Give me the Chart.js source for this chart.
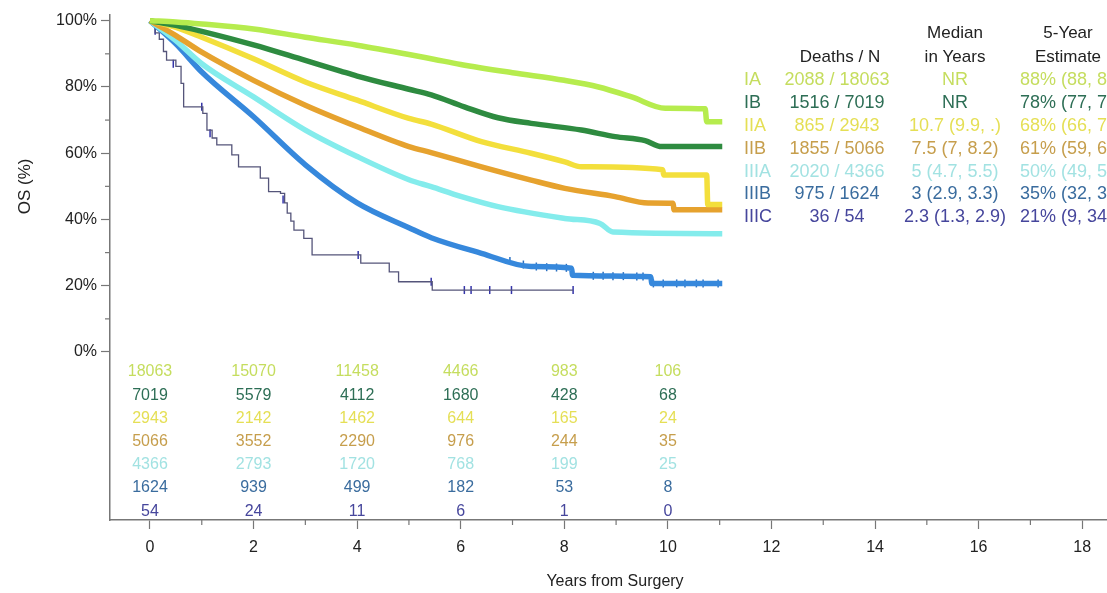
<!DOCTYPE html>
<html>
<head>
<meta charset="utf-8">
<title>OS by stage</title>
<script src="https://cdn.jsdelivr.net/npm/chart.js@4.4.1/dist/chart.umd.min.js"></script>
<style>
  html, body { margin: 0; padding: 0; background: #fff; overflow: hidden; }
  #wrap { position: relative; width: 1130px; height: 593px; }
</style>
</head>
<body>
<div id="wrap"><canvas id="osChart"></canvas></div>
<script>
// stages and colours
const stages = ['IA', 'IB', 'IIA', 'IIB', 'IIIA', 'IIIB', 'IIIC'];
const lineColors = ['#b6ec4e', '#2e8b40', '#f3df3c', '#e6a22e', '#84ecec', '#3688dc', '#55557a'];
const textColors = ['#c5dd5e', '#2d6e55', '#e5df55', '#c69e4c', '#a2e2e2', '#3a6c9e', '#46469c'];

// survival curves, [years, OS %]
const survIA = [[0,100],[0.5,99.6],[1,99],[2,97.5],[3,95],[4,92.6],[5,89.8],[5.5,88.3],[6,86.8],[7,84.3],[8,82],[8.66,80],[9.3,77],[9.95,73.6],[10.72,73.4],[10.75,69.5],[11.05,69.5]];
const survIB = [[0,100],[0.5,98.6],[1,96.8],[2,92.7],[3,88],[3.68,84.8],[4,83.3],[5,79.3],[5.43,77.6],[6.07,74],[6.72,70.7],[7.36,69],[8.33,67],[8.98,65],[9.56,63.8],[9.88,62],[11.05,62]];
const survIIA = [[0,100],[0.5,98],[1,95],[2,88.5],[3,81.5],[4,76],[5,70.5],[5.43,68.8],[6.4,63.5],[7.36,60],[8.01,57.4],[8.33,55.9],[9.9,55],[9.92,53.4],[10.75,53.4],[10.77,44.5],[11.05,44.5]];
const survIIB = [[0,100],[0.5,95.5],[1,90.5],[2,82],[3,74.5],[4,68],[5,62],[5.43,60.2],[6.4,55.9],[7.36,51.9],[8.01,49.4],[8.98,46.9],[9.62,45],[10.1,44.9],[10.12,42.9],[11.05,42.9]];
const survIIIA = [[0,100],[0.5,94],[1,87],[2,77],[3,67],[4,59],[5,52],[5.43,49.9],[6,47],[6.72,43.9],[8.01,40.3],[8.69,38.8],[8.94,36.2],[11.05,35.7]];
const survIIIB = [[0,100],[0.5,93],[1,84.5],[2,71],[3,56.5],[4,45],[5,37.5],[5.43,34.5],[6.4,29.8],[7.36,25.8],[8.14,25.3],[8.16,23.2],[9.67,22.7],[9.69,20.7],[11.05,20.7]];
const survIIIC = [[0,100],[0.1,96.3],[0.18,94.4],[0.26,90.7],[0.32,88.1],[0.5,86.2],[0.6,81.1],[0.65,74],[1.02,72],[1.1,67],[1.2,64.6],[1.29,62.5],[1.58,59.5],[1.71,55.9],[2.13,52.5],[2.29,48.4],[2.52,47.9],[2.6,45],[2.65,41.9],[2.72,39.5],[2.78,36.8],[2.97,34.3],[3.13,29.3],[4.07,26.8],[4.62,24.2],[4.8,21.2],[5.45,18.7],[8.17,18.7]];

// censor marks
const censIIIB = [[6.95,27.5],[7.21,26.4],[7.46,25.8],[7.66,25.6],[7.85,25.5],[8.04,25.4],[8.56,23],[8.75,23],[8.94,22.9],[9.14,22.9],[9.4,22.8],[9.52,22.8],[9.72,20.7],[9.91,20.7],[10.17,20.7],[10.33,20.7],[10.55,20.7],[10.68,20.7],[10.97,20.7]];
const censIIIC = [[0.1,97],[0.45,87],[1.0,74],[1.16,66],[2.57,46],[4.02,29.3],[5.43,21.2],[6.07,18.7],[6.2,18.7],[6.56,18.7],[6.98,18.7],[8.17,18.7]];

// numbers at risk
const riskYears = [0, 2, 4, 6, 8, 10];
const atRisk = [
  [18063, 15070, 11458, 4466, 983, 106],
  [7019, 5579, 4112, 1680, 428, 68],
  [2943, 2142, 1462, 644, 165, 24],
  [5066, 3552, 2290, 976, 244, 35],
  [4366, 2793, 1720, 768, 199, 25],
  [1624, 939, 499, 182, 53, 8],
  [54, 24, 11, 6, 1, 0]
];

// summary table
const deathsN = ['2088 / 18063', '1516 / 7019', '865 / 2943', '1855 / 5066', '2020 / 4366', '975 / 1624', '36 / 54'];
const medians = ['NR', 'NR', '10.7 (9.9, .)', '7.5 (7, 8.2)', '5 (4.7, 5.5)', '3 (2.9, 3.3)', '2.3 (1.3, 2.9)'];
const fiveYear = ['88% (88, 89)', '78% (77, 79)', '68% (66, 70)', '61% (59, 62)', '50% (49, 52)', '35% (32, 37)', '21% (9, 34)'];

const xTicks = [0,1,2,3,4,5,6,7,8,9,10,11,12,13,14,15,16,17,18];
const yTicks = [0,10,20,30,40,50,60,70,80,90,100];

const FONT = "'Liberation Sans', Arial, Helvetica, sans-serif";
const AXIS = '#777';

const curves = [survIA, survIB, survIIA, survIIB, survIIIA, survIIIB, survIIIC];
const toXY = arr => arr.map(p => ({x: p[0], y: p[1]}));

const datasets = curves.map((c, i) => ({
  label: stages[i],
  data: toXY(c),
  borderColor: lineColors[i],
  borderWidth: i === 6 ? 1.3 : 5.5,
  pointRadius: 0,
  stepped: i === 6 ? 'before' : false,
  cubicInterpolationMode: 'monotone',
  fill: false
}));
datasets.push({
  label: 'IIIB censored', data: toXY(censIIIB), showLine: false,
  pointStyle: 'line', rotation: 90, pointRadius: 4, borderColor: '#2a6fc0', borderWidth: 1.5
});
datasets.push({
  label: 'IIIC censored', data: toXY(censIIIC), showLine: false,
  pointStyle: 'line', rotation: 90, pointRadius: 4, borderColor: '#3434a8', borderWidth: 1.5
});

const extras = {
  id: 'extras',
  afterDraw(chart) {
    const ctx = chart.ctx;
    const xs = chart.scales.x, ys = chart.scales.y;
    ctx.save();
    // minor ticks
    ctx.strokeStyle = AXIS;
    ctx.lineWidth = 1.2;
    xTicks.filter(v => v % 2 === 1).forEach(v => {
      const px = xs.getPixelForValue(v);
      ctx.beginPath(); ctx.moveTo(px, xs.top); ctx.lineTo(px, xs.top + 5); ctx.stroke();
    });
    yTicks.filter(v => v % 20 === 10).forEach(v => {
      const py = ys.getPixelForValue(v);
      ctx.beginPath(); ctx.moveTo(ys.right, py); ctx.lineTo(ys.right - 5, py); ctx.stroke();
    });

    // y title centred on 0-100%
    ctx.fillStyle = '#222';
    ctx.font = '17px ' + FONT;
    ctx.textAlign = 'center';
    ctx.textBaseline = 'middle';
    ctx.translate(25, ys.getPixelForValue(50));
    ctx.rotate(-Math.PI / 2);
    ctx.fillText('OS (%)', 0, 0);
    ctx.setTransform(1, 0, 0, 1, 0, 0);

    // numbers at risk
    const y0 = ys.getPixelForValue(0);
    ctx.font = '16px ' + FONT;
    atRisk.forEach((row, i) => {
      ctx.fillStyle = textColors[i];
      row.forEach((n, j) => {
        ctx.fillText(String(n), xs.getPixelForValue(riskYears[j]), y0 + 20 + i * 23.2);
      });
    });

    // summary table
    ctx.fillStyle = '#222';
    ctx.font = '17px ' + FONT;
    ctx.fillText('Deaths / N', 840, 57);
    ctx.fillText('Median', 955, 33);
    ctx.fillText('in Years', 955, 57);
    ctx.fillText('5-Year', 1068, 33);
    ctx.fillText('Estimate', 1068, 57);
    ctx.font = '18px ' + FONT;
    stages.forEach((s, i) => {
      const ry = 80 + i * 22.9;
      ctx.fillStyle = textColors[i];
      ctx.textAlign = 'left';
      ctx.fillText(s, 744, ry);
      ctx.textAlign = 'center';
      ctx.fillText(deathsN[i], 837, ry);
      ctx.fillText(medians[i], 955, ry);
      ctx.textAlign = 'left';
      ctx.fillText(fiveYear[i], 1020, ry);
    });
    ctx.restore();
  }
};

new Chart(document.getElementById('osChart'), {
  type: 'line',
  data: { datasets: datasets },
  options: {
    responsive: true,
    maintainAspectRatio: false,
    animation: false,
    layout: { padding: { top: 15, right: 10, left: 0, bottom: 0 } },
    plugins: { legend: { display: false }, tooltip: { enabled: false } },
    scales: {
      x: {
        type: 'linear',
        min: -0.772,
        max: 18.73,
        afterBuildTicks: s => { s.ticks = xTicks.map(v => ({value: v})); },
        afterFit: s => { s.height = 73; },
        border: { color: AXIS, width: 1.5 },
        grid: {
          drawOnChartArea: false,
          tickLength: 9,
          tickWidth: 1.2,
          tickColor: c => (c.tick && c.tick.value % 2 === 0) ? AXIS : 'rgba(0,0,0,0)'
        },
        ticks: {
          autoSkip: false, maxRotation: 0, padding: 9,
          color: '#222', font: { family: FONT, size: 16 },
          callback: v => v % 2 === 0 ? String(v) : ''
        },
        title: {
          display: true, text: 'Years from Surgery', color: '#222',
          font: { family: FONT, size: 16 }, padding: { top: 0, bottom: 2 }
        }
      },
      y: {
        min: -50.71,
        max: 101.72,
        afterBuildTicks: s => { s.ticks = yTicks.map(v => ({value: v})); },
        afterFit: s => { s.width = 110; },
        border: { color: AXIS, width: 1.5 },
        grid: {
          drawOnChartArea: false,
          tickLength: 9,
          tickWidth: 1.2,
          tickColor: c => (c.tick && c.tick.value % 20 === 0) ? AXIS : 'rgba(0,0,0,0)'
        },
        ticks: {
          autoSkip: false, padding: 4,
          color: '#222', font: { family: FONT, size: 16 },
          callback: v => v % 20 === 0 ? v + '%' : ''
        }
      }
    }
  },
  plugins: [extras]
});
</script>
</body>
</html>
